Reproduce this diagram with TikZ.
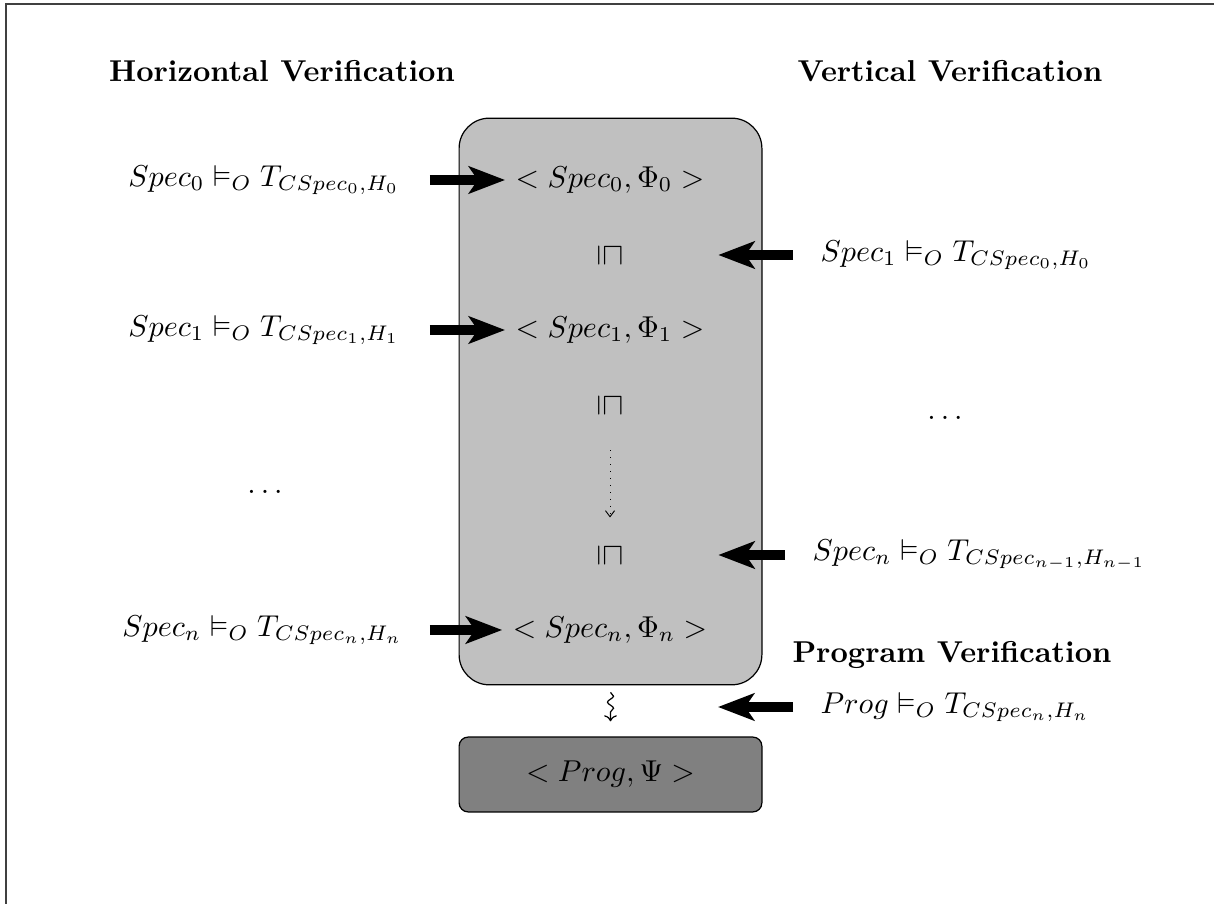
\documentclass[tikz,border=0pt]{standalone}
\usepackage{amsmath,amssymb}
\usetikzlibrary{arrows.meta,decorations.pathmorphing}

\definecolor{specgray}{RGB}{192,192,192}
\definecolor{proggray}{RGB}{128,128,128}

\tikzset{
  heading/.style={font=\bfseries},
  specbox/.style={draw,line width=0.4pt,fill=specgray,rounded corners=10pt,minimum width=100.3pt,minimum height=187.7pt},
  progbox/.style={draw,line width=0.4pt,fill=proggray,rounded corners=3pt,minimum width=100.3pt,minimum height=24.8pt},
  refines/.style={rotate=-90},
  fatarrow/.style={-{Stealth[length=12pt,width=9pt,inset=3pt]},line width=3pt},
}

\begin{document}
\begin{tikzpicture}[x=0.01164cm,y=-0.01164cm]
    \useasboundingbox (0,0) rectangle (1214,904);
    \clip (0,0) rectangle (1214,904);
    \draw[black!75,line width=0.5pt] (6,930) -- (6,4) -- (1240,4);

    % the specification chain and the program
    \node[specbox] (chain) at (610.5,401.5) {};
    \node[progbox] (prog) at (610.5,774.5) {$<Prog,\Psi>$};

    \node (phi0) at (610,180) {$<Spec_0,\Phi_0>$};
    \node[refines] (ref1) at (610,255) {$\sqsubseteq$};
    \node (phi1) at (610,330) {$<Spec_1,\Phi_1>$};
    \node[refines] (ref2) at (610,405) {$\sqsubseteq$};
    \node[refines] (ref3) at (610,555) {$\sqsubseteq$};
    \node (phin) at (610,630) {$<Spec_n,\Phi_n>$};

    % headings
    \node[heading] (hv) at (282,71) {Horizontal Verification};
    \node[heading] (vv) at (950,71) {Vertical Verification};
    \node[heading] (pv) at (952,655) {Program Verification};

    % horizontal obligations
    \node[anchor=east] (h0) at (410,180) {$Spec_0\vDash_O T_{CSpec_0,H_0}$};
    \node[anchor=east] (h1) at (410,330) {$Spec_1\vDash_O T_{CSpec_1,H_1}$};
    \node (hdots) at (265,492) {$\ldots$};
    \node[anchor=east] (hn) at (413,630) {$Spec_n\vDash_O T_{CSpec_n,H_n}$};

    % vertical obligations
    \node[anchor=west] (v1) at (810,255) {$Spec_1\vDash_O T_{CSpec_0,H_0}$};
    \node (vdots) at (945,418) {$\ldots$};
    \node[anchor=west] (vn) at (802,555) {$Spec_n\vDash_O T_{CSpec_{n-1},H_{n-1}}$};
    \node[anchor=west] (pg) at (810,707) {$Prog\vDash_O T_{CSpec_n,H_n}$};
    \coordinate (pgtip) at (718,707);

    \draw[fatarrow,shorten <=6.6pt] (h0) -- (phi0);
    \draw[fatarrow,shorten <=6.6pt] (h1) -- (phi1);
    \draw[fatarrow,shorten <=5.6pt] (hn) -- (phin);

    \draw[fatarrow,shorten <=5.6pt,shorten >=28.5pt] (v1) -- (ref1);
    \draw[fatarrow,shorten <=5.6pt,shorten >=28.5pt] (vn) -- (ref3);
    \draw[fatarrow,shorten <=5.6pt] (pg) -- (pgtip);

    \draw[dotted,line width=0.3pt,-{Straight Barb[length=2pt,width=3pt]},shorten <=7.6pt,shorten >=5pt] (ref2) -- (ref3);
    \draw[-{To[length=2pt]},decorate,decoration={snake,amplitude=1pt,segment length=4pt,post length=2.5pt}]
      ([yshift=-2.3pt]chain.south) -- ([yshift=5pt]prog.north);
\end{tikzpicture}
\end{document}
